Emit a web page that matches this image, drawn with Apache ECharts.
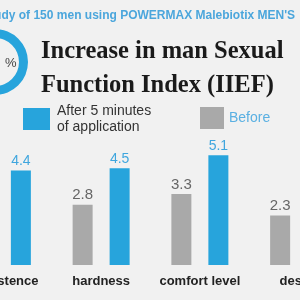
<!DOCTYPE html>
<html>
<head>
<meta charset="utf-8">
<script src="https://cdn.jsdelivr.net/npm/echarts@6/dist/echarts.min.js"></script>
<style>
  html, body { margin: 0; padding: 0; background: #f1f1f1; }
  #chart { width: 300px; height: 300px; }
</style>
</head>
<body>
<div id="chart"></div>
<script>
// data
const categories = ['persistence', 'hardness', 'comfort level', 'desire']
const beforeValues = [2.6, 2.8, 3.3, 2.3]
const afterValues = [4.4, 4.5, 5.1, 4.2]
const beforeName = 'Before'
const afterName = 'After 5 minutes\nof application'
const ringValue = [85]

const BLUE = '#27a4dc'
const GRAY = '#a9a9a9'

const chart = echarts.init(document.getElementById('chart'))

const option = {
  backgroundColor: '#f1f1f1',
  animation: false,
  title: [
    {
      text: "A study of 150 men using POWERMAX Malebiotix MEN'S",
      right: 0,
      top: 5,
      textStyle: { fontFamily: 'Liberation Sans', fontWeight: 'bold', fontSize: 12, color: '#4ba6dc' }
    },
    {
      text: 'Increase in man Sexual\nFunction Index (IIEF)',
      left: 36,
      top: 30,
      textStyle: { fontFamily: 'Liberation Serif', fontWeight: 'bold', fontSize: 24.5, lineHeight: 34, color: '#1a1a1a' }
    },
    {
      text: '%',
      left: 0,
      top: 52,
      textStyle: { fontFamily: 'Liberation Sans', fontWeight: 'normal', fontSize: 13, color: '#444' }
    }
  ],
  legend: [
    {
      data: [afterName],
      left: 18,
      top: 98,
      itemWidth: 27,
      itemHeight: 22,
      icon: 'rect',
      textStyle: { fontFamily: 'Liberation Sans', fontSize: 14, lineHeight: 16, color: '#333', padding: [0, 0, 0, 2] }
    },
    {
      data: [beforeName],
      left: 195,
      top: 102,
      itemWidth: 24,
      itemHeight: 22,
      icon: 'rect',
      textStyle: { fontFamily: 'Liberation Sans', fontSize: 14, color: '#5ab0e2' }
    }
  ],
  grid: { left: -47, right: -48, top: 136, bottom: 35, containLabel: false, outerBoundsMode: 'none' },
  xAxis: {
    type: 'category',
    data: categories,
    axisLine: { show: false },
    axisTick: { show: false },
    axisLabel: { margin: 10, fontFamily: 'Liberation Sans', fontWeight: 'bold', fontSize: 13, color: '#222', interval: 0, hideOverlap: false }
  },
  yAxis: {
    type: 'value',
    min: 0,
    max: 6,
    show: false,
    splitLine: { show: false }
  },
  series: [
    {
      type: 'pie',
      radius: [24, 33],
      center: [-5, 62],
      silent: true,
      label: { show: false },
      itemStyle: { color: BLUE },
      data: ringValue
    },
    {
      name: beforeName,
      type: 'bar',
      data: beforeValues,
      barWidth: 20,
      barGap: '85%',
      itemStyle: { color: GRAY },
      label: { show: true, position: 'top', distance: 2, fontFamily: 'Liberation Sans', fontSize: 15, color: '#666' }
    },
    {
      name: afterName,
      type: 'bar',
      data: afterValues,
      barWidth: 20,
      itemStyle: { color: BLUE },
      label: { show: true, position: 'top', distance: 2, fontFamily: 'Liberation Sans', fontSize: 14, color: '#3fa6de' }
    }
  ]
}

chart.setOption(option)
</script>
</body>
</html>
